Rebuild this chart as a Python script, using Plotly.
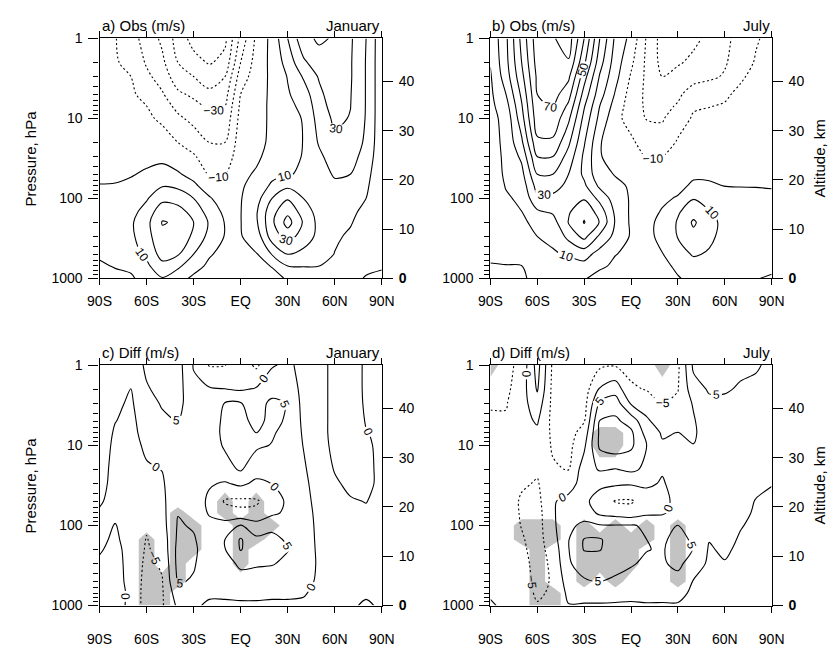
import numpy as np
import plotly.graph_objects as go

# ---------------- data ----------------
LATS = list(range(-90, 91, 10))
PLEV = [1000, 700, 500, 300, 200, 150, 100, 70, 50, 30, 20, 10, 7, 5, 3, 2, 1]

LAT_TICKS = [-90, -60, -30, 0, 30, 60, 90]
LAT_LABELS = ["90S", "60S", "30S", "EQ", "30N", "60N", "90N"]
P_TICKS = [1, 10, 100, 1000]
P_LABELS = ["1", "10", "100", "1000"]
KM_TICKS = [0, 10, 20, 30, 40]
KM_LABELS = ["<b>0</b>", "10", "20", "30", "40"]
SCALE_HEIGHT_KM = 7.06

# zonal-mean zonal wind (m/s): one list per latitude (90S..90N), values 1000 hPa -> 1 hPa
jan_obs = [
    [-3, -1, 1, 3, 3.5, 3, 1.5, 0.3, -1.5, -3, -4, -5, -5.5, -6, -6.5, -7, -7],
    [-2, 0.5, 3, 5, 5.5, 4.5, 2.5, 0.5, -1.5, -3, -4, -5.5, -6.5, -7.5, -8.5, -9, -9.5],
    [-1, 1.5, 6, 8, 8.5, 7, 4, 1.5, -0.5, -3, -4, -6, -7, -8.5, -10, -13, -16],
    [3, 8, 12, 16, 17, 14, 9, 4, 1, -2, -4, -8, -10, -13, -18, -21, -24],
    [9.5, 17, 24, 28, 30.5, 27, 17, 9.5, 3, -2, -5, -12, -15, -19, -24, -28, -32],
    [4, 12, 21, 27, 29, 24, 16, 8, 1, -5, -10, -18, -23, -28, -36, -40, -44],
    [-2, 4, 10, 18, 20, 17, 10, 2, -3, -9, -14, -23, -27, -32, -40, -46, -54],
    [-5, -2, 1, 7, 9, 6, 1, -5, -11, -15, -20, -28, -32, -38, -44, -51, -57],
    [-4, -4, -3, -0.5, -0.5, -2, -5, -8, -11, -16, -20, -27, -30, -34, -40, -47, -52],
    [-3, -4, -3, -0.5, -0.3, -0.3, -0.5, -1, -2, -4, -5, -6.5, -8, -10, -15, -20, -27],
    [-5, -3, -0.5, 4, 8.5, 9, 6, 3, 1, -1.5, -3, -4, -4, -4.5, -5, -6, -8],
    [-3, 0.5, 10.5, 25, 28, 27, 20, 12, 7, 3, 2, 2, 2, 2, 2, 2.5, 3],
    [1, 10, 20, 34, 44, 38, 29, 18, 9.5, 7, 6.5, 7, 8, 9, 10.5, 14, 20],
    [6, 10.3, 17, 26, 29, 26, 20, 15, 11, 10.5, 10.2, 10.5, 12, 15, 21, 28, 37],
    [6, 10.1, 13, 17, 17, 16, 15, 15, 16, 18, 21, 24, 26, 27.5, 31, 36, 41.5],
    [4, 7.5, 9.8, 11, 12, 13, 15, 18, 21, 25, 28, 32, 34, 36, 38, 39, 39],
    [2, 4, 6, 9, 10.5, 11.5, 13, 17, 20, 24, 27, 29.5, 30.2, 30.5, 31, 31, 31.5],
    [-0.5, 1.5, 3, 5, 7, 8, 10, 11.5, 13, 16, 18, 19.3, 19.5, 19.5, 19.5, 19.5, 20],
    [-1, 0.5, 1, 1.5, 2, 2, 2.5, 3, 3, 3, 3, 3, 3, 3, 3, 3, 3],
]

jul_obs = [
    [-3, -0.5, 1.5, 3, 4, 4, 4, 4.5, 5, 5.5, 6, 7, 7.5, 8, 9, 10.5, 12],
    [-2, -0.3, 2.5, 5, 6.5, 7.5, 9, 10.5, 11.5, 12, 12.5, 13, 16, 20, 25, 27, 28],
    [-1.5, -0.1, 3, 6, 8, 9.8, 11.5, 14, 17, 22, 28, 36, 39, 42, 47, 50, 53],
    [3, 6, 8, 10, 13, 18, 28, 34, 40, 50, 58, 66, 68, 70, 72, 74, 76],
    [7, 8.5, 9.5, 11, 16, 21, 28, 33, 40, 50, 58, 67, 71, 74, 78, 78.5, 79],
    [6, 8, 10.5, 23, 30.5, 29, 27, 28, 30, 36, 42, 52, 58, 64, 72, 79, 85],
    [1, 7, 14, 33, 40.5, 38, 29, 22, 18, 18, 21, 27, 31, 36, 44, 52, 60],
    [-4, 2, 6, 18, 29.5, 26, 17, 8, 3, 1, 1, 7, 10, 14, 19, 24, 30],
    [-5, -2, 0.3, 7, 9, 8, 5, 2, -0.5, -6, -8, -7, -4, -1, 3, 5, 8],
    [-4, -4, -2, -1, -1.5, -1.5, -1, -1, -3, -5, -8, -14, -15, -14, -11, -8, -3],
    [-6, -4, -2, -2, -2, -2, -3, -4, -6, -11, -15, -20.5, -21.5, -22, -22, -22, -21],
    [-3, -2, -0.3, 2, 2, 0.5, -1, -4, -6, -10, -15, -21, -23, -26, -30, -33, -34],
    [-0.5, 1.5, 6, 10.5, 11, 9, 0.5, -1.5, -4, -7, -9, -14, -19, -22, -27, -31, -35],
    [2, 6, 11, 17, 21.5, 16, 9.5, 1, -1, -4, -7, -9, -11, -15, -24, -28, -32],
    [1, 5, 9, 12, 13, 11, 5, 0.8, -1, -4, -6, -8.5, -10.2, -13, -22, -25, -28],
    [1, 4, 6, 7, 7.5, 6, 3, -0.1, -1, -3.5, -5, -8, -9.5, -11, -19, -21, -22],
    [0.5, 3, 4, 5, 5, 4, 2, -0.2, -1.5, -3, -4, -6, -7, -8.5, -11, -15, -17],
    [0.2, 2, 3, 3.5, 3.5, 3, 1.5, -0.2, -1, -2.5, -3.5, -4.5, -5, -6, -8, -9, -11],
    [-0.5, 1, 2, 2, 2, 2, 1, -0.3, -1, -2, -2.5, -3, -3.5, -4, -5, -6, -7],
]

jan_diff = [
    [2, 2, 1.5, 0.8, -0.5, -1, -1.5, -0.5, 0.5, 1.5, 2, 2.5, 2.5, 2.5, 2.5, 2.5, 2.5],
    [2.5, 3, 2.5, 2, 1.5, 0.8, 0.2, -1, -1.5, -1.5, -1.5, -1, -0.5, 0.1, 0.8, 1.5, 2],
    [-1.5, -1.5, -2, -2, -2, -2, -2, -2, -2, -2, -2, -1.5, -1.2, -1, -0.6, -0.1, 1.5],
    [-7, -7, -6.5, -6, -5.5, -5.2, -4.5, -3.5, -3, -2, -0.5, 0.8, 1.5, 2, 3, 4.5, 6],
    [-5.5, -5.5, -5.2, -4.5, -3.5, -3, -2, -1.5, -1, -0.5, 0.1, 2, 3, 4, 5.5, 6.5, 7],
    [1, 3, 5.5, 6.5, 6.5, 6, 5.5, 4.8, 3.5, 3, 3, 3.5, 4, 5, 6.5, 7, 7],
    [1, 3, 4.5, 5.5, 6, 5.5, 4.5, 3.5, 3, 3.5, 4, 3.5, 3, 2.5, 2, 1, -0.3],
    [-1, 1, 2, 2, 2, 2, 1.5, -0.5, -1, 0.5, 2, 3, 3, 3, 2, 0.5, -5.3],
    [-1, 1, 2, 3, 4.8, 5, 2, -3, -5.5, -0.5, 3.5, 5.5, 6, 5.8, 5.2, 0.1, -5.2],
    [-1, 1.5, 3, 6, 10.3, 10.5, 5.2, -4, -6, 1, 5.5, 6.5, 6.5, 6, 5.2, -0.5, -2],
    [-1, 1.5, 3, 5.5, 7, 6, 2, -4, -5.5, -1, 2, 5.8, 5, 4, 3.5, 0.5, -6],
    [-1, 1, 2.5, 5.3, 6.5, 6, 4, -1, -3, 0.1, 2.5, 4.8, 5.5, 6, 5.8, 3.5, -0.5],
    [-1, 1, 2.5, 4, 5.2, 4.5, 3, 1, 1, 1, 1.5, 2.5, 3.5, 4.5, 4.8, 3, 1],
    [-1, 0.5, 2, 3, 3, 2.5, 2, 1.5, 1, 0.8, 0.5, -0.1, -0.5, -1, -1.5, -1.5, -1.5],
    [-1.5, -1.5, -1, -0.8, -1, -1, -1, -1, -1, -1.5, -2, -2.5, -2.5, -2.5, -2.5, -2.5, -2.5],
    [-1, -1, -1, -1, -1.5, -1.5, -1.5, -1.2, -1, -0.5, 0.2, 1.5, 2, 2, 2, 2, 2],
    [-0.5, -0.5, -0.5, -0.5, -0.5, -0.8, -1, -0.8, -0.3, 0.8, 1.5, 2.5, 3, 3, 3, 3, 3],
    [0.5, -0.5, -0.5, -0.5, -0.5, -0.5, -0.5, -0.5, 0.1, 1, 1, 0.7, 0.2, -0.3, -0.8, -1, -1],
    [-0.5, -1, -1, -1, -1, -1, -1, -1, -1, -1, -1, -1, -1, -1, -1, -1, -1],
]

jul_diff = [
    [0.3, -0.3, -1, -1.5, -2, -2, -2, -2, -2, -2.5, -3, -3.5, -4, -4.5, -5.3, -6, -7],
    [-0.5, -1, -1.5, -2, -2.5, -2.5, -2.5, -2.5, -3, -3, -3, -3.5, -4, -4.5, -5.3, -6, -6.5],
    [-1, -2, -2.5, -3, -4, -4.5, -5.2, -5.5, -5.5, -4.5, -3.5, -2.5, -2, -1.5, -2, -2.5, -3.5],
    [-4.5, -6, -6.5, -7, -7, -7, -7, -7, -6.5, -5.3, -4.5, -2, -1, 0.5, 3, 5.5, 7],
    [-3, -4, -4.5, -4, -3, -2, -1, -0.5, -0.3, -2.5, -4.5, -5.5, -6, -6.5, -6.5, -6.5, -6],
    [-0.2, 1, 2.5, 4.5, 4.8, 4.8, 4, 2.5, 1, -1.5, -5.2, -6.5, -7, -7.5, -8, -8, -8],
    [-0.5, 2, 4.5, 7, 10.3, 10.3, 6, 3, 1, 1.5, 2.5, -1, -3, -5.3, -7, -7.5, -8],
    [-0.5, 2, 5, 8, 10.2, 10.5, 5.3, -1, -2, 1, 5.5, 11, 11, 10.2, 6, 0.5, -6],
    [-0.5, 1.5, 4, 7, 8, 7.5, 5.2, -2, -5.3, 0.8, 4.8, 13, 13, 11, 7.5, 3, -5.5],
    [-0.5, 1, 3, 5.5, 8.5, 8, 5.3, -3, -5.5, 0.5, 6, 11, 11, 8, -0.5, -4.5, -6],
    [-0.3, 1, 2, 4, 5.2, 5, 4.5, -1, -3, 1, 4, 5, 3, 1, -3, -5.2, -7],
    [-0.5, 1.5, 3, 4.5, 4.5, 4, 3, -0.5, -1, -0.5, 0.5, 0.5, -0.5, -3, -5.2, -6.5, -7.5],
    [-0.5, 1.5, 3.5, 6, 7.5, 7, 5.2, 1.5, 1, 2, 2.5, 1.5, 0.1, -2, -4, -5.2, -6],
    [-1.5, -1, -0.3, 3, 4.8, 4, 3, 2.5, 2, 1.5, 1, 0.1, -0.8, -0.5, 0.5, 3, 6],
    [-1, -1, -1, -1, -0.5, 0.2, 1, 1.5, 2, 2.5, 2.5, 2.5, 3, 3.5, 4, 5.5, 7],
    [-1, -1, -1, -0.3, 0.8, 1.5, 2, 2.5, 2.5, 2.5, 2.5, 2.5, 3, 3.5, 4, 5.5, 7],
    [-1, -1, -1, -1, -1, -0.5, 0.3, 1, 1.5, 2, 2.5, 2.5, 3, 3, 3.5, 4.5, 6],
    [-1, -1, -1, -1, -1, -1, -1, -0.5, -0.2, 1, 1.5, 2, 2.5, 3, 3.5, 4, 5.5],
    [-1, -1, -1, -1, -1, -1, -1, -1, -0.5, 0.1, 1, 1.5, 2, 2.5, 3, 3.5, 4],
]

# grid cells (lat, hPa) where the difference is significant (grey shading)
jan_diff_sig = [
    (-60, 1000), (-60, 700), (-60, 500), (-60, 300), (-60, 200), (-60, 150),
    (-50, 1000), (-50, 700), (-50, 500),
    (-40, 500), (-40, 300), (-40, 200), (-40, 150), (-40, 100), (-40, 70),
    (-30, 200), (-30, 150), (-30, 100),
    (-10, 70), (-10, 50),
    (0, 300), (0, 200), (0, 150), (0, 100),
    (10, 150), (10, 100), (10, 70), (10, 50),
    (20, 100),
]
jul_diff_sig = [
    (-90, 1), (20, 1),
    (-70, 150), (-70, 100),
    (-60, 1000), (-60, 700), (-60, 500), (-60, 300), (-60, 200), (-60, 150), (-60, 100),
    (-50, 150), (-50, 100), (-50, 1000), (-50, 700),
    (-20, 10), (-20, 7), (-10, 10), (-10, 7),
    (-30, 500), (-30, 300), (-30, 200), (-30, 150), (-30, 100),
    (-20, 300), (-20, 200), (-20, 150),
    (-10, 500), (-10, 300), (-10, 200), (-10, 150), (-10, 100),
    (0, 300), (0, 200), (0, 150),
    (10, 150), (10, 100),
    (30, 500), (30, 300), (30, 200), (30, 150), (30, 100),
]

PANELS = [
    dict(cols=jan_obs, sig=None, title="a) Obs (m/s)", month="January", kind="obs"),
    dict(cols=jul_obs, sig=None, title="b) Obs (m/s)", month="July", kind="obs"),
    dict(cols=jan_diff, sig=jan_diff_sig, title="c) Diff (m/s)", month="January", kind="diff"),
    dict(cols=jul_diff, sig=jul_diff_sig, title="d) Diff (m/s)", month="July", kind="diff"),
]

DOT = "2px,2.5px"
# contour level sets: (start, end, step, dash, show labels)
LEVELS = {
    "obs": [(0, 80, 20, "solid", False), (10, 70, 20, "solid", True),
            (-60, -20, 20, DOT, False), (-50, -10, 20, DOT, True)],
    "diff": [(10, 15, 5, "solid", False), (0, 5, 5, "solid", True),
             (-15, -10, 5, DOT, False), (-5, -5, 5, DOT, True)],
}

# ---------------- layout geometry (page pixels; page body has an 8 px margin) ----------------
PAGE_OFF = 8
W, H = 838 - PAGE_OFF, 648 - PAGE_OFF


def fx(px):
    return (px - PAGE_OFF) / W


def fy(py):
    return 1 - (py - PAGE_OFF) / H


X_DOM = [[fx(90), fx(381)], [fx(493), fx(783)]]
Y_DOM = [[fy(277), fy(31)], [fy(612.7), fy(366)]]
XLAB_STANDOFF = [4, 14]
FONT = "Liberation Sans, Arial, Helvetica, sans-serif"
KM_TOP = SCALE_HEIGHT_KM * np.log(max(PLEV) / min(PLEV))
MINOR_P = [m * 10 ** e for e in range(0, 3) for m in range(2, 10)]


def to_grid(cols):
    return np.array(cols, dtype=float).T


def sig_grid(cells):
    m = np.zeros((len(PLEV), len(LATS)))
    for lat, p in cells:
        m[PLEV.index(p), LATS.index(lat)] = 1.0
    return m


fig = go.Figure()
layout = dict(
    width=W, height=H, margin=dict(l=0, r=0, t=0, b=0),
    paper_bgcolor="white", plot_bgcolor="white", showlegend=False,
    font=dict(family=FONT, size=14, color="black"),
)
annotations = []

for i, pan in enumerate(PANELS):
    n = i + 1
    row, col = divmod(i, 2)
    xs = "x" if n == 1 else f"x{n}"
    ys = "y" if n == 1 else f"y{n}"
    km = f"y{n + 4}"
    z = to_grid(pan["cols"])

    if pan["sig"] is not None:
        fig.add_trace(go.Contour(
            x=LATS, y=PLEV, z=sig_grid(pan["sig"]), xaxis=xs, yaxis=ys,
            contours=dict(type="constraint", operation="<", value=0.5),
            fillcolor="#c3c3c3", line=dict(width=0, smoothing=0),
            showscale=False, hoverinfo="skip"))

    for start, end, step, dash, lab in LEVELS[pan["kind"]]:
        fig.add_trace(go.Contour(
            x=LATS, y=PLEV, z=z, xaxis=xs, yaxis=ys, autocontour=False,
            contours=dict(coloring="lines", start=start, end=end, size=step,
                          showlabels=lab,
                          labelfont=dict(size=12, color="black", family=FONT)),
            line=dict(width=1.1, dash=dash, smoothing=0.9),
            colorscale=[[0, "black"], [1, "black"]], showscale=False,
            hoverinfo="skip"))

    # empty trace that registers the altitude axis of this panel
    fig.add_trace(go.Scatter(x=[], y=[], xaxis=xs, yaxis=km, mode="lines",
                             hoverinfo="skip", showlegend=False))

    xname = "xaxis" if n == 1 else f"xaxis{n}"
    yname = "yaxis" if n == 1 else f"yaxis{n}"
    layout[xname] = dict(
        domain=X_DOM[col], anchor=ys, range=[-90, 90],
        tickmode="array", tickvals=LAT_TICKS, ticktext=LAT_LABELS,
        ticks="outside", ticklen=6, tickwidth=1.2, tickcolor="black",
        mirror="ticks", showline=True, linecolor="black", linewidth=1.3,
        showgrid=False, zeroline=False, tickfont=dict(size=14),
        ticklabelstandoff=XLAB_STANDOFF[row])
    layout[yname] = dict(
        domain=Y_DOM[row], anchor=xs, type="log",
        range=[np.log10(max(PLEV)), np.log10(min(PLEV))],
        tickmode="array", tickvals=P_TICKS, ticktext=P_LABELS,
        ticks="outside", ticklen=10, tickwidth=1.2, tickcolor="black",
        minor=dict(tickmode="array", tickvals=MINOR_P, ticks="outside",
                   ticklen=5, tickwidth=1, tickcolor="black", showgrid=False),
        showline=True, linecolor="black", linewidth=1.3,
        showgrid=False, zeroline=False, tickfont=dict(size=14),
        ticklabelstandoff=3)
    layout[f"yaxis{n + 4}"] = dict(
        overlaying=ys, anchor=xs, side="right", range=[0, KM_TOP],
        tickmode="array", tickvals=KM_TICKS, ticktext=KM_LABELS,
        ticks="outside", ticklen=10, tickwidth=1.2, tickcolor="black",
        showline=True, linecolor="black", linewidth=1.3,
        showgrid=False, zeroline=False, tickfont=dict(size=14),
        ticklabelstandoff=3)

    annotations.append(dict(
        text=pan["title"], xref=f"{xs} domain", yref=f"{ys} domain",
        x=0, y=1, xanchor="left", yanchor="bottom", yshift=2,
        showarrow=False, font=dict(size=15)))
    annotations.append(dict(
        text=pan["month"], xref=f"{xs} domain", yref=f"{ys} domain",
        x=1, y=1, xanchor="right", yanchor="bottom", yshift=2,
        showarrow=False, font=dict(size=15)))
    ymid = (Y_DOM[row][0] + Y_DOM[row][1]) / 2
    if col == 0:
        annotations.append(dict(
            text="Pressure, hPa", xref="paper", yref="paper", x=fx(18.5), y=ymid,
            xanchor="center", yanchor="middle", textangle=-90,
            showarrow=False, font=dict(size=15)))
    else:
        annotations.append(dict(
            text="Altitude, km", xref="paper", yref="paper", x=fx(832), y=ymid,
            xanchor="center", yanchor="middle", textangle=-90,
            showarrow=False, font=dict(size=15)))

layout["annotations"] = annotations
fig.update_layout(**layout)
fig.write_html("out.html")
